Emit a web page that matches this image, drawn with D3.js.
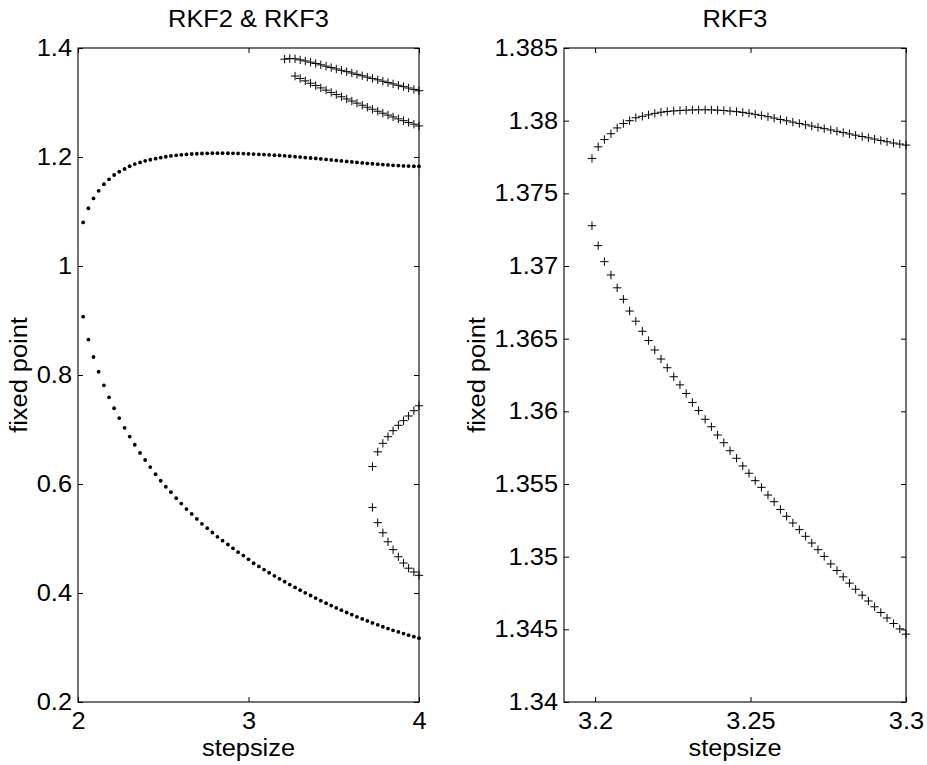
<!DOCTYPE html>
<html><head><meta charset="utf-8">
<script src="https://cdn.jsdelivr.net/npm/d3@7"></script>
<style>
body{margin:0;background:#fff}
text{font-family:"Liberation Sans",Arial,Helvetica,sans-serif;fill:#000}
</style>
</head><body>
<svg id="c" width="927" height="765"></svg>
<script>
// ---------- data ----------
const stepsizeL = [2.030,2.061,2.091,2.121,2.152,2.182,2.212,2.242,2.273,2.303,
  2.333,2.364,2.394,2.424,2.455,2.485,2.515,2.545,2.576,2.606,
  2.636,2.667,2.697,2.727,2.758,2.788,2.818,2.848,2.879,2.909,
  2.939,2.970,3.000,3.030,3.061,3.091,3.121,3.152,3.182,3.212,
  3.242,3.273,3.303,3.333,3.364,3.394,3.424,3.455,3.485,3.515,
  3.545,3.576,3.606,3.636,3.667,3.697,3.727,3.758,3.788,3.818,
  3.848,3.879,3.909,3.939,3.970,4.000];
const rkf2Upper = [1.080,1.106,1.124,1.138,1.150,1.159,1.167,1.173,1.178,1.183,
  1.187,1.190,1.193,1.195,1.197,1.199,1.2005,1.202,1.203,1.204,
  1.2048,1.2055,1.206,1.2064,1.2067,1.2069,1.207,1.207,1.2069,1.2067,
  1.2065,1.2062,1.2058,1.2054,1.2050,1.2045,1.2040,1.2034,1.2028,1.2021,
  1.2014,1.2006,1.1998,1.1990,1.1982,1.1973,1.1964,1.1955,1.1946,1.1937,
  1.1928,1.1919,1.1910,1.1901,1.1892,1.1884,1.1876,1.1868,1.1861,1.1854,
  1.1848,1.1842,1.1837,1.1833,1.1830,1.1828];
const rkf2Lower = [0.907,0.865,0.833,0.806,0.781,0.759,0.739,0.721,0.703,0.687,
  0.672,0.657,0.644,0.631,0.618,0.606,0.595,0.585,0.574,0.564,
  0.554,0.545,0.536,0.527,0.519,0.511,0.503,0.496,0.489,0.482,
  0.475,0.4686,0.4617,0.4546,0.4487,0.4429,0.4372,0.4316,0.4261,0.4208,
  0.4155,0.4103,0.4052,0.4003,0.3954,0.3907,0.3860,0.3814,0.3770,0.3726,
  0.3684,0.3642,0.3602,0.3563,0.3524,0.3487,0.3451,0.3416,0.3381,0.3348,
  0.3316,0.3285,0.3255,0.3226,0.3198,0.3171];
// RKF3 branches in left panel (start at stepsizeL index 39, 41, 56, 56)
const rkf3StepA = stepsizeL.slice(39);
const rkf3A = [1.3795,1.3808,1.3802,1.3782,1.3762,1.3740,1.3716,1.3691,1.3666,1.3641,
  1.3616,1.3591,1.3566,1.3541,1.3516,1.3491,1.3466,1.3441,1.3416,1.3391,
  1.3366,1.3341,1.3316,1.3291,1.3266,1.3241,1.3216];
const rkf3StepB = stepsizeL.slice(41);
const rkf3B = [1.3485,1.3441,1.3397,1.3353,1.3311,1.3268,1.3227,1.3185,1.3145,1.3105,
  1.3065,1.3026,1.2988,1.2950,1.2913,1.2876,1.2840,1.2804,1.2769,1.2735,
  1.2700,1.2667,1.2634,1.2602,1.2570];
const rkf3StepC = stepsizeL.slice(56);
const rkf3C = [0.632,0.659,0.6746,0.6868,0.6978,0.7077,0.7162,0.7248,0.7345,0.7435];
const rkf3D = [0.557,0.529,0.5105,0.494,0.4795,0.4665,0.455,0.4455,0.4385,0.4325];

const stepsizeR = [3.1990,3.2010,3.2030,3.2051,3.2071,3.2091,3.2111,3.2131,3.2152,3.2172,
  3.2192,3.2212,3.2232,3.2253,3.2273,3.2293,3.2313,3.2333,3.2354,3.2374,
  3.2394,3.2414,3.2434,3.2455,3.2475,3.2495,3.2515,3.2535,3.2556,3.2576,
  3.2596,3.2616,3.2636,3.2657,3.2677,3.2697,3.2717,3.2737,3.2758,3.2778,
  3.2798,3.2818,3.2838,3.2859,3.2879,3.2899,3.2919,3.2939,3.2960,3.2980,3.3000];
const rkf3RUpper = [1.3774,1.3782,1.3787,1.3791,1.3795,1.3798,1.3800,1.3802,1.3803,1.3804,
  1.3805,1.38058,1.38063,1.38067,1.3807,1.38072,1.38074,1.38075,1.38075,1.38074,
  1.38072,1.3807,1.38066,1.38062,1.38057,1.38051,1.38044,1.38036,1.38027,1.38018,
  1.38008,1.37999,1.3799,1.37981,1.37972,1.37963,1.37954,1.37945,1.37936,1.37927,
  1.37918,1.37909,1.379,1.37891,1.37882,1.37873,1.37864,1.37855,1.37846,1.37839,1.37832];
const rkf3RLower = [1.37277,1.3714,1.3703,1.36938,1.3685,1.36771,1.3669,1.3662,1.36551,1.36487,
  1.36422,1.3636,1.363,1.36238,1.36182,1.36123,1.36061,1.36005,1.35945,1.35894,
  1.35837,1.35784,1.35729,1.35677,1.35624,1.35574,1.35523,1.35477,1.35424,1.35378,
  1.35325,1.35278,1.35232,1.35186,1.3514,1.35094,1.35048,1.35002,1.3495,1.34905,
  1.34861,1.34818,1.34776,1.34735,1.34695,1.34655,1.34616,1.34578,1.3454,1.34503,1.34467];

const xTicksL = [2,3,4], xLabelsL = ["2","3","4"];
const yTicksL = [0.2,0.4,0.6,0.8,1.0,1.2,1.4], yLabelsL = ["0.2","0.4","0.6","0.8","1","1.2","1.4"];
const xTicksR = [3.2,3.25,3.3], xLabelsR = ["3.2","3.25","3.3"];
const yTicksR = [1.34,1.345,1.35,1.355,1.36,1.365,1.37,1.375,1.38,1.385];
const yLabelsR = ["1.34","1.345","1.35","1.355","1.36","1.365","1.37","1.375","1.38","1.385"];

// ---------- drawing ----------
const svg = d3.select('#c');
const FS = 23.5;
const STRETCH = 1.08;

function panel(o) {
  const x = d3.scaleLinear().domain(o.xd).range([o.left, o.right]);
  const y = d3.scaleLinear().domain(o.yd).range([o.bottom, o.top]);
  const g = svg.append('g');

  const fmt = (ticks, labels) => d => labels[ticks.findIndex(t => Math.abs(t - d) < 1e-9)];
  const ax = [
    d3.axisBottom(x).tickValues(o.xt).tickFormat(fmt(o.xt, o.xl)).tickSize(-5).tickSizeOuter(0).tickPadding(10),
    d3.axisLeft(y).tickValues(o.yt).tickFormat(fmt(o.yt, o.yl)).tickSize(-5).tickSizeOuter(0).tickPadding(6),
    d3.axisTop(x).tickValues(o.xt).tickFormat('').tickSize(-5).tickSizeOuter(0),
    d3.axisRight(y).tickValues(o.yt).tickFormat('').tickSize(-5).tickSizeOuter(0)
  ];
  const pos = [`translate(0,${o.bottom})`, `translate(${o.left},0)`, `translate(0,${o.top})`, `translate(${o.right},0)`];
  ax.forEach((a, i) => {
    const ag = g.append('g').attr('transform', pos[i]).call(a);
    ag.select('.domain').remove();
    ag.selectAll('line').attr('stroke', '#000');
    ag.selectAll('text').attr('font-size', FS).attr('font-family', '"Liberation Sans",Arial,sans-serif').attr('fill', '#000');
  });

  g.append('rect').attr('x', o.left).attr('y', o.top)
    .attr('width', o.right - o.left).attr('height', o.bottom - o.top)
    .attr('fill', 'none').attr('stroke', '#000').attr('stroke-width', 1.1);

  // series
  o.series.forEach(s => {
    const pts = s.x.map((v, i) => [v, s.y[i]]);
    if (s.type === 'dot') {
      g.append('g').selectAll('circle').data(pts).join('circle')
        .attr('cx', d => x(d[0])).attr('cy', d => y(d[1])).attr('r', 1.9).attr('fill', '#000');
    } else {
      g.append('g').selectAll('path').data(pts).join('path')
        .attr('d', d => `M${x(d[0]) - 4.2},${y(d[1])}H${x(d[0]) + 4.2}M${x(d[0])},${y(d[1]) - 4.2}V${y(d[1]) + 4.2}`)
        .attr('stroke', '#000').attr('stroke-width', 1).attr('fill', 'none');
    }
  });

  // titles and labels
  const cx = (o.left + o.right) / 2;
  g.append('text').attr('x', cx).attr('y', 27).attr('text-anchor', 'middle').attr('font-size', FS).text(o.title);
  g.append('text').attr('x', cx).attr('y', 756).attr('text-anchor', 'middle').attr('font-size', FS).text('stepsize');
  g.append('text').attr('transform', `translate(${o.ylabX},${(o.top + o.bottom) / 2}) rotate(-90)`)
    .attr('text-anchor', 'middle').attr('font-size', FS).text('fixed point');
}

panel({
  left: 78, right: 419, top: 48, bottom: 702,
  xd: [2, 4], yd: [0.2, 1.4], xt: xTicksL, xl: xLabelsL, yt: yTicksL, yl: yLabelsL,
  title: 'RKF2 & RKF3', ylabX: 27,
  series: [
    {type: 'dot', x: stepsizeL, y: rkf2Upper},
    {type: 'dot', x: stepsizeL, y: rkf2Lower},
    {type: 'cross', x: rkf3StepA, y: rkf3A},
    {type: 'cross', x: rkf3StepB, y: rkf3B},
    {type: 'cross', x: rkf3StepC, y: rkf3C},
    {type: 'cross', x: rkf3StepC, y: rkf3D}
  ]
});

panel({
  left: 564, right: 906, top: 48, bottom: 702,
  xd: [3.19, 3.3], yd: [1.34, 1.385], xt: xTicksR, xl: xLabelsR, yt: yTicksR, yl: yLabelsR,
  title: 'RKF3', ylabX: 485,
  series: [
    {type: 'cross', x: stepsizeR, y: rkf3RUpper},
    {type: 'cross', x: stepsizeR, y: rkf3RLower}
  ]
});

// widen glyphs slightly to match the reference's font proportions
svg.selectAll('text').each(function () {
  const len = this.getComputedTextLength();
  if (len > 0) d3.select(this).attr('textLength', len * STRETCH).attr('lengthAdjust', 'spacingAndGlyphs');
});
</script>
</body></html>
